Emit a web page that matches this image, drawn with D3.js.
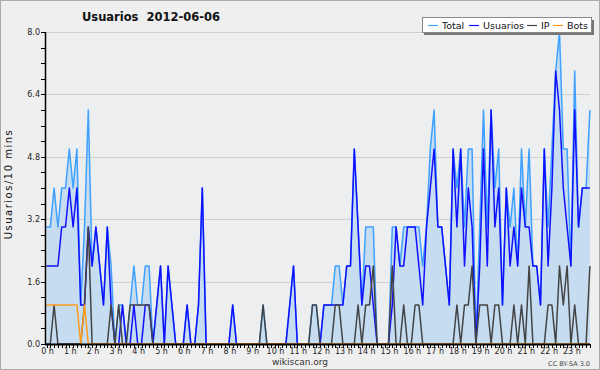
<!DOCTYPE html>
<html>
<head>
<meta charset="utf-8">
<script src="https://cdn.jsdelivr.net/npm/d3@7"></script>
<style>
  body { margin: 0; background: #fff; }
  svg { display: block; font-family: "DejaVu Sans", sans-serif; }
</style>
</head>
<body>
<svg id="chart" width="600" height="370"></svg>
<script>
// one value per 10 minutes, 00:00 .. 23:50
const total = [3,3,4,3,4,4,5,4,5,1,3,6,2,3,2,1,3,2,0,1,1,0,1,2,1,1,2,2,0,1,2,0,2,1,0,0,
  0,1,0,0,1,4,0,0,0,0,0,0,0,1,0,0,0,0,0,0,0,1,0,0,0,0,0,0,1,2,0,0,0,0,1,1,
  0,1,1,1,2,2,1,2,2,5,3,1,3,3,3,0,0,0,0,3,3,2,3,3,3,3,3,2,3,5,6,3,3,2,1,5,
  4,5,3,5,5,0,3,6,3,6,4,5,1,4,3,4,2,5,3,5,2,2,1,5,3,5,7,8,5,5,2,7,3,4,4,6];
const usuarios = [2,2,2,2,3,3,4,3,4,1,1,3,2,3,2,1,3,1,0,0,1,0,0,1,0,0,1,1,0,1,2,0,2,1,0,0,
  0,1,0,0,1,4,0,0,0,0,0,0,0,1,0,0,0,0,0,0,0,0,0,0,0,0,0,0,1,2,0,0,0,0,0,0,
  0,1,1,1,1,1,1,2,2,5,3,1,2,2,1,0,0,0,0,1,3,2,2,3,3,3,2,1,3,4,5,3,3,2,1,5,
  3,5,2,4,3,0,2,5,2,6,3,4,1,4,2,3,2,4,3,3,2,2,1,5,2,4,7,6,4,3,2,6,3,4,4,4];
const ip = [0,0,1,0,0,0,0,0,0,0,1,3,0,0,0,0,0,1,0,1,0,0,1,1,1,1,1,1,0,0,0,0,0,0,0,0,
  0,0,0,0,0,0,0,0,0,0,0,0,0,0,0,0,0,0,0,0,0,1,0,0,0,0,0,0,0,0,0,0,0,0,1,1,
  0,0,0,0,1,1,0,0,0,0,1,0,1,1,2,0,0,0,0,2,0,0,1,0,0,1,1,0,0,0,0,0,0,0,0,0,
  1,0,1,1,2,0,1,1,1,0,1,1,0,0,0,1,0,1,0,2,0,0,0,0,1,1,0,2,1,2,0,1,0,0,0,2];
const bots = [1,1,1,1,1,1,1,1,1,0,1,0,0,0,0,0,0,0,0,0,0,0,0,0,0,0,0,0,0,0,0,0,0,0,0,0,
  0,0,0,0,0,0,0,0,0,0,0,0,0,0,0,0,0,0,0,0,0,0,0,0,0,0,0,0,0,0,0,0,0,0,0,0,
  0,0,0,0,0,0,0,0,0,0,0,0,0,0,0,0,0,0,0,0,0,0,0,0,0,0,0,0,0,0,0,0,0,0,0,0,
  0,0,0,0,0,0,0,0,0,0,0,0,0,0,0,0,0,0,0,0,0,0,0,0,0,0,0,0,0,0,0,0,0,0,0,0];
const hours = d3.range(24).map(h => h + " h");
const yTicks = [0, 1.6, 3.2, 4.8, 6.4, 8.0];
const seriesNames = ["Total", "Usuarios", "IP", "Bots"];
const seriesColors = ["#3ea0ff", "#1010ff", "#444", "#ff9c1a"];

const svg = d3.select("#chart");
const W = 600, H = 370;
const pLeft = 45, pRight = 590, pTop = 32, pBottom = 344;

const x = d3.scaleLinear().domain([0, 143]).range([46.5, 589.9]);
const y = d3.scaleLinear().domain([0, 8]).range([pBottom, pTop]);

// background + frame
svg.append("rect").attr("x", 0.5).attr("y", 0.5).attr("width", W - 1).attr("height", H - 1)
  .attr("fill", "#efefef").attr("stroke", "#aaa");
svg.append("rect").attr("x", pLeft).attr("y", pTop).attr("width", pRight - pLeft).attr("height", pBottom - pTop)
  .attr("fill", "#edeef0");

// grid
svg.append("g").selectAll("line").data(yTicks.slice(1)).join("line")
  .attr("x1", pLeft).attr("x2", pRight)
  .attr("y1", d => Math.round(y(d)) + 0.5).attr("y2", d => Math.round(y(d)) + 0.5)
  .attr("stroke", "#cfcfcf");

// area under total
svg.append("path").datum(total)
  .attr("fill", "#c6ddf1")
  .attr("d", d3.area().x((d, i) => x(i)).y0(pBottom).y1(d => y(d)));

const line = d3.line().x((d, i) => x(i)).y(d => y(d));
[total, usuarios, ip, bots].forEach((s, k) => {
  svg.append("path").datum(s)
    .attr("fill", "none")
    .attr("stroke", seriesColors[k])
    .attr("stroke-width", 1.5)
    .attr("stroke-linejoin", "round")
    .attr("d", line);
});

// y axis
const yAxis = svg.append("g").attr("transform", `translate(${pLeft},0)`);
yAxis.append("line").attr("x1", 0.5).attr("x2", 0.5).attr("y1", pTop).attr("y2", pBottom + 1)
  .attr("stroke", "#000").attr("stroke-width", 1.5);
yAxis.selectAll(".minor").data(d3.range(0, 8.01, 0.4)).join("line")
  .attr("x1", -4).attr("x2", 0)
  .attr("y1", d => Math.round(y(d)) + 0.5).attr("y2", d => Math.round(y(d)) + 0.5)
  .attr("stroke", "#000");
yAxis.selectAll("text").data(yTicks).join("text")
  .attr("x", -5).attr("y", d => y(d) + 3)
  .attr("text-anchor", "end").attr("font-size", 8).attr("fill", "#222")
  .text(d => d.toFixed(1));

// x axis
const xAxis = svg.append("g");
xAxis.append("line").attr("x1", pLeft).attr("x2", pRight).attr("y1", pBottom + 0.5).attr("y2", pBottom + 0.5)
  .attr("stroke", "#000").attr("stroke-width", 2);
xAxis.selectAll(".tk").data(d3.range(144)).join("line")
  .attr("x1", i => Math.round(x(i)) + 0.5).attr("x2", i => Math.round(x(i)) + 0.5)
  .attr("y1", pBottom).attr("y2", pBottom + 4)
  .attr("stroke", "#000");
xAxis.selectAll("text").data(hours).join("text")
  .attr("x", (d, h) => x(h * 6) + 1).attr("y", pBottom + 10)
  .attr("text-anchor", "middle").attr("font-size", 8).attr("fill", "#222")
  .text(d => d);

// titles
svg.append("text").attr("x", 151).attr("y", 21).attr("text-anchor", "middle")
  .attr("font-size", 11.5).attr("font-weight", "bold").attr("fill", "#111")
  .attr("xml:space", "preserve").text("Usuarios  2012-06-06");
svg.append("text").attr("transform", "translate(12,184) rotate(-90)").attr("text-anchor", "middle")
  .attr("font-size", 10).attr("letter-spacing", 1.5).attr("fill", "#111").text("Usuarios/10 mins");
svg.append("text").attr("x", 300).attr("y", 365).attr("text-anchor", "middle")
  .attr("font-size", 9).attr("fill", "#333").text("wikiscan.org");
svg.append("text").attr("x", 590).attr("y", 366).attr("text-anchor", "end")
  .attr("font-size", 6.5).attr("fill", "#444").text("CC BY-SA 3.0");

// legend
const lg = svg.append("g");
lg.append("rect").attr("x", 424).attr("y", 20).attr("width", 170).attr("height", 15).attr("fill", "#777");
lg.append("rect").attr("x", 422.5).attr("y", 17.5).attr("width", 169).attr("height", 15)
  .attr("fill", "#fff").attr("stroke", "#888");
const legX = [428, 469, 527, 553];
seriesNames.forEach((n, k) => {
  lg.append("line").attr("x1", legX[k]).attr("x2", legX[k] + 10).attr("y1", 25.5).attr("y2", 25.5)
    .attr("stroke", seriesColors[k]).attr("stroke-width", 1.2);
  lg.append("text").attr("x", legX[k] + 14).attr("y", 29).attr("font-size", 9.5).attr("fill", "#111").text(n);
});
</script>
</body>
</html>
